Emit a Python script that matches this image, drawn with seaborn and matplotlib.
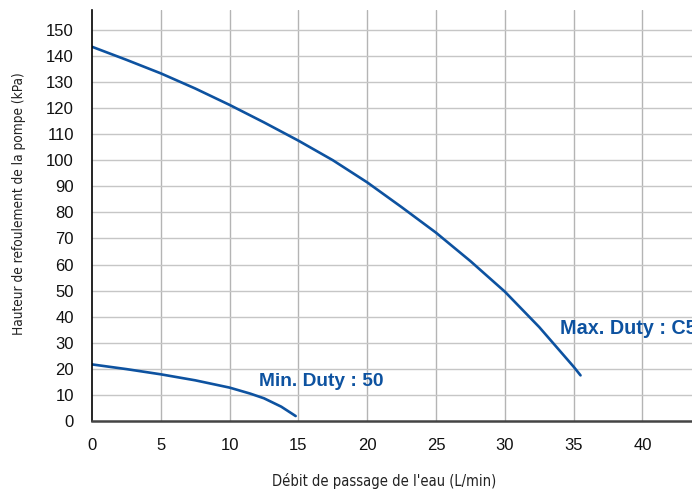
import matplotlib
matplotlib.use("Agg")
import matplotlib.pyplot as plt
import seaborn as sns
import pandas as pd

# curve readings (L/min vs kPa)
max_flow = [0, 2.5, 5, 7.5, 10, 12.5, 15, 17.5, 20, 22.5, 25, 27.5, 30, 32.5, 35, 35.5]
max_head = [143.5, 138.5, 133.3, 127.5, 121.2, 114.5, 107.5, 100.0, 91.5, 82.0, 72.2, 61.3, 49.6, 36.0, 20.8, 17.5]
min_flow = [0, 2.5, 5, 7.5, 10, 11.5, 12.5, 13.75, 14.8]
min_head = [21.7, 19.9, 17.9, 15.6, 12.8, 10.5, 8.7, 5.5, 1.9]

xticks = [0, 5, 10, 15, 20, 25, 30, 35, 40]
yticks = list(range(0, 151, 10))

blue = "#0d52a0"

df = pd.concat([
    pd.DataFrame({"flow": max_flow, "head": max_head, "pump": "max"}),
    pd.DataFrame({"flow": min_flow, "head": min_head, "pump": "min"}),
])

sns.set_style("white")
plt.rcParams["font.family"] = ["Liberation Sans", "DejaVu Sans"]

fig = plt.figure(figsize=(6.92, 4.93), dpi=100)
ax = fig.add_axes([92 / 692, 72 / 493, 1 - 92 / 692, (421 - 10) / 493])

for x in xticks[1:]:
    ax.axvline(x, color="#b4b4b4", lw=1.0, zorder=0)
for y in yticks[1:]:
    ax.axhline(y, color="#c6c6c6", lw=1.0, zorder=0)

sns.lineplot(data=df, x="flow", y="head", units="pump", estimator=None,
             color=blue, lw=1.9, ax=ax, sort=False)

ax.set_xlim(0, 43.6)
ax.set_ylim(0, 157.6)
ax.set_xticks(xticks)
ax.set_yticks(yticks)
ax.tick_params(axis="both", length=0, labelsize=12, colors="#111111")
ax.tick_params(axis="x", pad=12)
ax.tick_params(axis="y", pad=13)

for s in ["top", "right"]:
    ax.spines[s].set_visible(False)
ax.spines["left"].set_color("black")
ax.spines["left"].set_linewidth(1.2)
ax.spines["bottom"].set_color("#444444")
ax.spines["bottom"].set_linewidth(1.8)

ax.set_xlabel("Débit de passage de l'eau (L/min)", fontsize=10.5, family="DejaVu Sans",
              fontstretch="condensed", color="#222222", va="center")
ax.set_ylabel("Hauteur de refoulement de la pompe (kPa)", fontsize=9.8, family="DejaVu Sans",
              fontstretch="condensed", color="#222222", va="center", ha="center")
ax.xaxis.set_label_coords((384.5 - 92) / 600, (421 - 481) / 411)
ax.yaxis.set_label_coords((19 - 92) / 600, (421 - 204) / 411)

ax.text(34.0, 35.3, "Max. Duty : C50", color=blue, fontsize=14.2, fontweight="bold",
        va="center", ha="left", clip_on=False)
ax.text(12.1, 15.3, "Min. Duty : 50", color=blue, fontsize=13.8, fontweight="bold",
        va="center", ha="left")

fig.savefig("out.png", dpi=100)
